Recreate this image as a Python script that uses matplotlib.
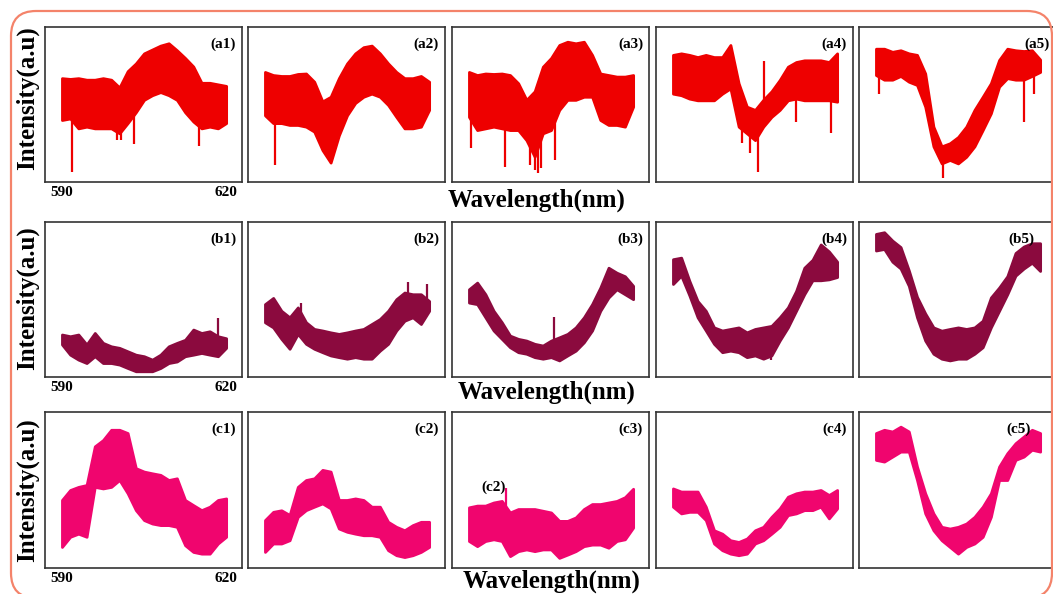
import matplotlib.pyplot as plt
import numpy as np
from matplotlib.patches import FancyBboxPatch

# sampling grid of the traces (nm)
wl = np.linspace(590, 620, 21)

# intensities in % of panel height, upper / lower edge of the noisy band
a1_hi = [67, 66.5, 67, 66, 66, 67, 66, 61, 71.5, 76.5, 83, 85.5, 88, 89.5, 85, 80, 74.5, 64, 64, 63, 62]
a1_lo = [40, 41, 34.6, 35.7, 34.6, 34.6, 34.6, 31.4, 38, 45, 53, 56, 58, 56, 53, 45, 39, 34.6, 35.7, 34.6, 38]
a2_hi = [71, 69, 68.4, 68.4, 69.7, 70, 64.7, 52, 55, 67, 76.5, 83, 87, 88, 83, 76.5, 71, 67, 67, 68.4, 64.7]
a2_lo = [43, 38, 38, 36.8, 36.8, 35.7, 32.5, 20.6, 12.5, 30, 43, 51, 55, 57, 55, 49.7, 42, 34.6, 34.6, 35.7, 46.5]
a3_hi = [71, 69, 70, 69.7, 70, 69, 63.7, 53, 58.5, 74.4, 80, 88.4, 90.5, 89.5, 90.5, 82, 70, 69, 68, 68, 69]
a3_lo = [42, 33.5, 34.6, 35.7, 34.6, 33.5, 33.5, 27, 16.3, 31.4, 33.5, 46.5, 53, 53, 55, 55, 40, 36.8, 36.8, 35.7, 48.6]
a4_hi = [82, 83, 82, 80.6, 82, 80.6, 80.6, 88.4, 63.7, 48.6, 46.5, 53, 58.5, 65.8, 74.4, 77.4, 78.5, 78.5, 78.5, 77.4, 83]
a4_lo = [57, 56, 53.8, 52.7, 52.7, 52.7, 57, 60.4, 35.7, 31.4, 27, 35.7, 42, 46.5, 52.7, 53.8, 52.7, 52.7, 52.7, 52.7, 51.8]
a5_hi = [86, 86, 84, 85, 83, 82, 70, 35.7, 23, 25, 29, 35.7, 46.5, 55, 63.7, 78.7, 86, 85, 84.5, 85, 79]
a5_lo = [69, 66, 66, 68.4, 64.7, 62.6, 48.6, 23, 12, 14.2, 12, 16.3, 23, 33.5, 44.3, 61.5, 67, 66, 66, 68.4, 71]

b1_hi = [27.4, 26.3, 27.4, 21, 28.4, 22, 19.8, 18.8, 16.6, 14.4, 13.4, 11.2, 14.4, 19.8, 22, 24, 30.6, 28.4, 29.5, 26.3, 25]
b1_lo = [21, 14.4, 11.2, 9, 13.4, 9, 9, 8, 5.8, 3.7, 3.7, 3.7, 5.8, 9, 10, 13.4, 14.4, 15.5, 14.4, 13.4, 18.8]
b2_hi = [47, 51, 42.7, 38.5, 44.9, 35.3, 31, 30, 28.8, 27.8, 28.8, 30, 31, 34.2, 37.4, 42.7, 50.2, 54.5, 53.4, 53.4, 49]
b2_lo = [35.3, 32, 24.6, 18.2, 27.8, 21.4, 18.2, 16, 13.9, 12.8, 11.8, 12.8, 11.8, 11.8, 17, 21.4, 30, 36.3, 38.5, 34.2, 42.7]
b3_hi = [56.6, 60.9, 53.4, 42.7, 35.3, 26.7, 24.6, 23.5, 21.4, 20.3, 23.5, 25.6, 27.8, 32, 38.5, 47, 57.7, 70.5, 67.3, 65, 58.8]
b3_lo = [48, 47, 38.5, 30, 24.6, 19.2, 16, 15, 12.8, 11.8, 12.8, 10.7, 13.9, 17, 22.4, 30, 42.7, 51.3, 56.6, 53.4, 50.2]
b4_hi = [76, 77, 62, 49, 42.7, 32, 30, 31, 32, 28.8, 31, 32, 33, 38.5, 44.9, 55.5, 70.5, 75.6, 85.5, 81, 74.4]
b4_lo = [60, 65.4, 52.6, 38.5, 30, 21.4, 16, 17, 16, 12.8, 13.9, 11.8, 13.9, 23.5, 32, 42.7, 53.4, 62.4, 62.4, 63, 64.5]
b5_hi = [92.3, 93.4, 88, 83.8, 68.8, 51.7, 41, 32, 29.9, 31, 32, 31, 32, 36.3, 51.3, 57.7, 65, 80, 84.2, 86.3, 86.3]
b5_lo = [81.6, 82.6, 74.4, 70, 58.8, 38.5, 23.5, 15, 11.8, 10.7, 11.8, 11.8, 15, 19.2, 32, 42.7, 53.4, 65.4, 70, 73.7, 68.4]

c1_hi = [43.6, 50, 52, 53.2, 78, 82, 88.6, 88.6, 86.5, 64, 61.8, 60.7, 59.7, 56.4, 57.5, 43.6, 40.3, 37.1, 39.3, 43.6, 44.6]
c1_lo = [13.5, 20, 22, 20, 52, 51, 52, 56.4, 47.9, 37.1, 30.7, 28.5, 27.5, 27.5, 26.4, 14.6, 10.3, 9.2, 9.2, 15.7, 20]
c2_hi = [30.7, 36, 37, 34, 52, 56.4, 57.5, 62.9, 61.8, 43.6, 43.6, 44.6, 43.6, 39.3, 39.3, 29.6, 26.4, 24.2, 27.5, 29.6, 29.6]
c2_lo = [10.3, 15.7, 15.7, 17.8, 32.8, 37.1, 39.3, 41.4, 38.2, 25.3, 23.2, 22, 21, 21, 20, 11.4, 8.2, 7, 8.2, 10.3, 13.5]
c3_hi = [38.9, 40, 40, 42, 43, 35.6, 37.8, 37.8, 37.8, 36.7, 35.6, 30.2, 30.2, 32.4, 37.8, 41, 41, 42, 43, 45.4, 50.8]
c3_lo = [17.3, 14, 17.3, 18.4, 17.3, 7.6, 10.8, 11.9, 10.8, 11.9, 11.9, 6.5, 8.6, 10.8, 14, 15, 15, 13, 17.3, 18.4, 25.9]
c4_hi = [51, 49, 49, 49, 39.3, 24.2, 22, 17.8, 16.7, 18.9, 24.2, 26.4, 32.8, 38.2, 45.7, 47.9, 49, 49, 50, 46.8, 50]
c4_lo = [39.3, 35, 36, 36, 30.7, 15.7, 11.4, 9.2, 8.2, 9.2, 15.7, 17.8, 22, 26.4, 33.9, 35, 37.1, 37.1, 39.3, 31.8, 38.2]
c5_hi = [86.5, 88.6, 87.5, 90.6, 87.5, 65, 47.9, 35, 26.4, 25.3, 26.4, 28.5, 32.8, 39.3, 47.9, 65, 73.6, 80, 84.3, 88.6, 86.5]
c5_lo = [69.3, 68.2, 71.4, 74.6, 74.6, 56.4, 35, 24.2, 17.8, 13.5, 9.2, 13.5, 15.7, 20, 32.8, 56.4, 56.4, 69.3, 71.4, 75.8, 74.6]

# single spikes sticking out of the band (wavelength, tip)
a1_spk_x = [591.8, 600, 600.7, 603.2, 615]
a1_spk_y = [6.7, 27, 27, 24.5, 23.4]
a2_spk_x = [591.8]
a2_spk_y = [11]
a3_spk_x = [590.4, 596.6, 601.1, 602, 602.6, 603.2, 605.7]
a3_spk_y = [21.7, 10, 11, 7.7, 5.6, 8.8, 14.2]
a4_spk_x = [602.6, 604.1, 605.6, 606.7, 612.4, 618.8]
a4_spk_y = [25, 18.5, 6.7, 78, 39, 31.4]
a5_spk_x = [590.5, 602.3, 617, 618.8]
a5_spk_y = [57, 2.6, 39, 57]
b1_spk_x = [618.6]
b1_spk_y = [38]
b2_spk_x = [596.5, 616.2, 619.7]
b2_spk_y = [48, 61, 59.8]
b3_spk_x = [605.5]
b3_spk_y = [38.5]
b4_spk_x = [608]
b4_spk_y = [10.7]
c3_spk_x = [596.7]
c3_spk_y = [51]

rows = [
    ('a', '#ee0000', [(a1_hi, a1_lo, a1_spk_x, a1_spk_y), (a2_hi, a2_lo, a2_spk_x, a2_spk_y),
                      (a3_hi, a3_lo, a3_spk_x, a3_spk_y), (a4_hi, a4_lo, a4_spk_x, a4_spk_y),
                      (a5_hi, a5_lo, a5_spk_x, a5_spk_y)]),
    ('b', '#8b0a3e', [(b1_hi, b1_lo, b1_spk_x, b1_spk_y), (b2_hi, b2_lo, b2_spk_x, b2_spk_y),
                      (b3_hi, b3_lo, b3_spk_x, b3_spk_y), (b4_hi, b4_lo, b4_spk_x, b4_spk_y),
                      (b5_hi, b5_lo, [], [])]),
    ('c', '#f0056e', [(c1_hi, c1_lo, [], []), (c2_hi, c2_lo, [], []),
                      (c3_hi, c3_lo, c3_spk_x, c3_spk_y), (c4_hi, c4_lo, [], []),
                      (c5_hi, c5_lo, [], [])]),
]

W, H = 1053, 594
col_left = [45, 248, 452, 656, 859]
panel_w = 197
row_tb = [(27, 182), (222, 377), (412, 568)]
xlab_pos = [(537, 200), (547, 392), (552, 581)]
ylab_y = [98, 298, 490]
lab_x = {'b5': 0.89, 'c5': 0.87}

serif = ['Liberation Serif', 'DejaVu Serif']

fig = plt.figure(figsize=(W / 100, H / 100), dpi=100)

for r, (name, color, traces) in enumerate(rows):
    top, bot = row_tb[r]
    for c, (hi, lo, sx, sy) in enumerate(traces):
        ax = fig.add_axes([col_left[c] / W, 1 - bot / H, panel_w / W, (bot - top) / H])
        hi = np.array(hi)
        lo = np.array(lo)
        ax.fill_between(wl, lo, hi, color=color, lw=2.0, edgecolor=color)
        if sx:
            mid = np.interp(sx, wl, (hi + lo) / 2)
            ax.vlines(sx, sy, mid, color=color, lw=1.6)
        ax.set_xlim(586.9, 622.9)
        ax.set_ylim(0, 100)
        ax.set_yticks([])
        if c == 0:
            ax.set_xticks([590, 620])
            ax.set_xticklabels(['590', '620'], family=serif, fontweight='bold', fontsize=11)
            ax.tick_params(axis='x', length=0, pad=3)
        else:
            ax.set_xticks([])
        for s in ax.spines.values():
            s.set_color('#333333')
            s.set_linewidth(1.2)
        key = f'{name}{c + 1}'
        ax.text(lab_x.get(key, 0.97), 0.89, f'({key})', transform=ax.transAxes,
                ha='right', va='center', family=serif, fontweight='bold', fontsize=11)
        if key == 'c3':
            ax.text(0.21, 0.52, '(c2)', transform=ax.transAxes, ha='center', va='center',
                    family=serif, fontweight='bold', fontsize=11)

    fig.text(xlab_pos[r][0] / W, 1 - xlab_pos[r][1] / H, 'Wavelength(nm)', ha='center', va='center',
             family=serif, fontweight='bold', fontsize=18)
    fig.text(27 / W, 1 - ylab_y[r] / H, 'Intensity(a.u)', rotation=90, ha='center', va='center',
             family=serif, fontweight='bold', fontsize=18)

# orange rounded frame around the figure
frame = FancyBboxPatch((0.11, -0.04), 10.41, 5.87, boxstyle='round,pad=0,rounding_size=0.25',
                       transform=fig.dpi_scale_trans, fill=False, edgecolor='#f4836a', lw=1.6)
fig.patches.append(frame)

fig.savefig('out.png', dpi=100)
